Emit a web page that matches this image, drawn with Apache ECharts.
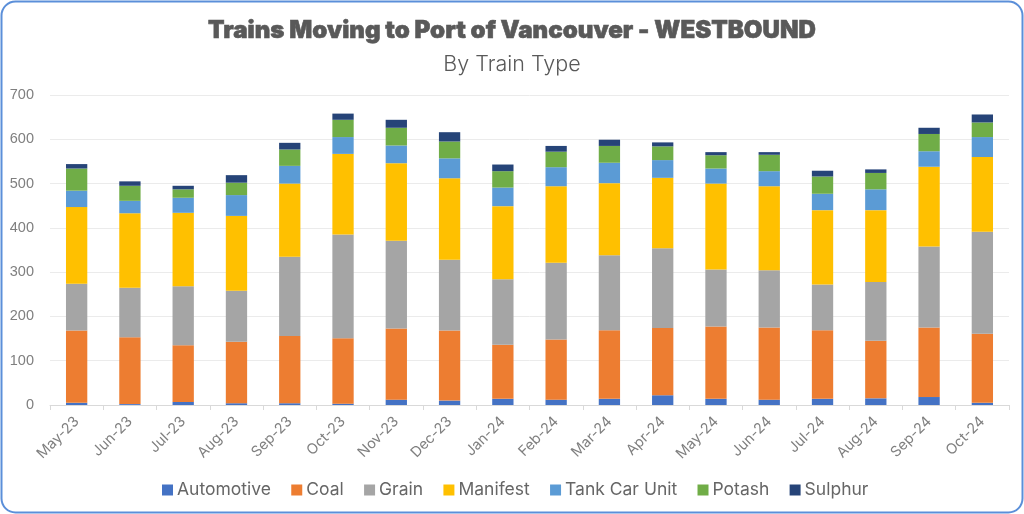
<!DOCTYPE html>
<html><head><meta charset="utf-8">
<style>html,body{margin:0;padding:0;background:#fff}#c{width:1024px;height:514px}</style>
<script src="https://cdn.jsdelivr.net/npm/echarts@6/dist/echarts.min.js"></script>
</head><body><div id="c"></div>
<script>
const months = ['May-23','Jun-23','Jul-23','Aug-23','Sep-23','Oct-23','Nov-23','Dec-23','Jan-24','Feb-24','Mar-24','Apr-24','May-24','Jun-24','Jul-24','Aug-24','Sep-24','Oct-24'];
const automotive = [5,2,7,4,4,3,12,10,14,12,14,22,14,12,14,15,18,5];
const coal = [163,151,128,139,152,148,161,158,122,136,155,152,163,163,155,130,157,156];
const grain = [106,112,133,115,179,234,198,160,148,173,169,180,129,129,103,133,183,230];
const manifest = [173,168,166,169,165,182,175,184,165,173,163,159,194,190,168,162,180,169];
const tankCarUnit = [37,28,34,47,40,38,40,45,42,43,46,40,34,34,37,47,35,45];
const potash = [50,34,19,28,37,39,40,38,37,35,38,31,30,37,39,37,39,33];
const sulphur = [10,10,8,17,15,14,18,21,15,13,14,9,7,6,13,8,14,18];

const seriesDefs = [
  ['Automotive', automotive, '#4472c4'],
  ['Coal', coal, '#ed7d31'],
  ['Grain', grain, '#a5a5a5'],
  ['Manifest', manifest, '#ffc000'],
  ['Tank Car Unit', tankCarUnit, '#5b9bd5'],
  ['Potash', potash, '#70ad47'],
  ['Sulphur', sulphur, '#264478']
];
const font = 'Inter, "Open Sans", sans-serif';
const chart = echarts.init(document.getElementById('c'), null, {renderer:'canvas'});
chart.setOption({
  animation:false,
  backgroundColor:'#fff',
  graphic:[{type:'rect',silent:true,z:0,shape:{x:1.5,y:1.5,width:1021,height:511,r:14},style:{fill:'#fff',stroke:'#5b8fd9',lineWidth:2}}],
  title:[
    {text:'Trains Moving to Port of Vancouver - WESTBOUND',left:'center',top:14,textStyle:{fontFamily:font,fontWeight:900,fontSize:24.1,color:'#595959',textBorderColor:'#595959',textBorderWidth:0.6}},
    {text:'By Train Type',left:'center',top:49,textStyle:{fontFamily:font,fontWeight:300,fontSize:21.5,color:'#595959'}}
  ],
  legend:{bottom:10,left:157,itemWidth:11,itemHeight:11,itemGap:20.3,icon:'rect',
    textStyle:{fontFamily:font,fontSize:17.5,color:'#666666',padding:[0,0,0,-1]}},
  grid:{left:50,right:15,top:95,bottom:109,containLabel:false},
  xAxis:{type:'category',data:months,
    axisLine:{lineStyle:{color:'#d9d9d9'}},
    axisTick:{show:true,alignWithLabel:false,length:5,lineStyle:{color:'#d9d9d9'}},
    axisLabel:{rotate:45,interval:0,margin:14,fontFamily:font,fontSize:14.5,color:'#7f7f7f'}},
  yAxis:{type:'value',min:0,max:700,interval:100,
    axisLine:{show:false},axisTick:{show:false},
    splitLine:{lineStyle:{color:'#ebebeb',width:1}},
    axisLabel:{margin:16,fontFamily:'"Liberation Sans",Arial,sans-serif',fontSize:14.5,color:'#7f7f7f'}},
  series:seriesDefs.map(([name,data,color])=>({name,type:'bar',stack:'t',data,barWidth:'40%',itemStyle:{color}}))
});
</script></body></html>
